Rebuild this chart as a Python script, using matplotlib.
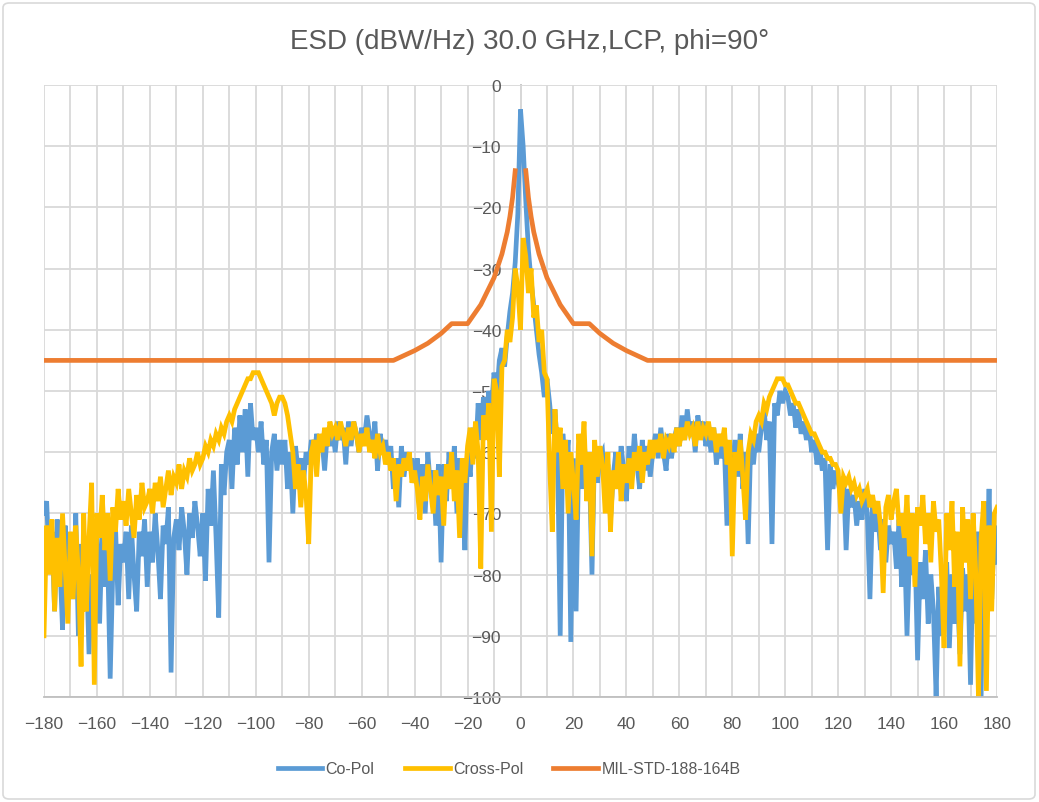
# plot.py
# ESD pattern vs angle, Excel-like chart

import numpy as np
import matplotlib
matplotlib.use("Agg")
import matplotlib.pyplot as plt
from matplotlib.patches import FancyBboxPatch

plt.rcParams['font.family'] = ['Liberation Sans', 'DejaVu Sans']

# angle grid (deg), one sample per degree
angle = np.arange(-180, 181)

co_pol = [
    -70, -68, -79, -73, -86, -71, -78, -89, -72, -81,   # -180
    -76, -84, -70, -90, -75, -83, -78, -93, -80, -86,   # -170
    -74, -88, -73, -82, -76, -97, -79, -72, -85, -75,   # -160
    -78, -73, -84, -72, -80, -86, -73, -77, -71, -82,   # -150
    -73, -78, -70, -76, -84, -72, -75, -69, -96, -74,   # -140
    -71, -76, -69, -73, -80, -70, -74, -68, -72, -77,   # -130
    -70, -81, -66, -72, -63, -74, -87, -62, -67, -60,   # -120
    -58, -66, -56, -62, -54, -60, -53, -64, -52, -58,   # -110
    -56, -60, -55, -62, -58, -78, -60, -57, -63, -58,   # -100
    -62, -58, -66, -60, -70, -59, -63, -61, -65, -60,   # -90
    -62, -58, -61, -57, -60, -58, -63, -57, -59, -56,   # -80
    -60, -55, -58, -56, -62, -55, -59, -55, -57, -60,   # -70
    -56, -58, -54, -57, -60, -55, -63, -57, -60, -58,   # -60
    -62, -59, -66, -61, -69, -59, -64, -60, -63, -61,   # -50
    -65, -61, -68, -62, -70, -60, -66, -63, -72, -62,   # -40
    -78, -62, -68, -60, -66, -59, -70, -61, -64, -76,   # -30
    -60, -64, -56, -61, -52, -58, -51, -56, -50, -53,   # -20
    -47, -51, -45, -43, -46, -41, -37, -34, -29, -21,   # -10
    -4,                                                 # 0
    -10, -19, -27, -32, -36, -40, -44, -47, -51, -48,   # 1
    -52, -57, -53, -60, -90, -57, -63, -58, -91, -61,   # 11
    -86, -60, -66, -58, -64, -62, -80, -59, -65, -61,   # 21
    -60, -67, -62, -71, -64, -60, -66, -59, -63, -68,   # 31
    -59, -64, -57, -62, -66, -58, -63, -59, -64, -60,   # 41
    -57, -61, -56, -60, -63, -57, -61, -58, -56, -59,   # 51
    -54, -58, -53, -57, -55, -60, -54, -57, -55, -59,   # 61
    -57, -60, -56, -62, -58, -61, -59, -72, -60, -63,   # 71
    -58, -64, -57, -66, -60, -75, -58, -62, -57, -60,   # 81
    -56, -53, -58, -55, -75, -52, -54, -50, -52, -50,   # 91
    -51, -54, -52, -56, -53, -57, -55, -58, -56, -60,   # 101
    -58, -62, -59, -63, -61, -76, -62, -66, -63, -65,   # 111
    -67, -64, -76, -66, -69, -67, -72, -68, -71, -66,   # 121
    -70, -84, -68, -73, -70, -76, -71, -78, -72, -75,   # 131
    -73, -79, -71, -82, -74, -90, -76, -80, -75, -94,   # 141
    -78, -84, -76, -88, -80, -86, -100, -82, -90, -86,  # 151
    -78, -92, -80, -88, -82, -93, -79, -86, -80, -98,   # 161
    -76, -88, -73, -100, -68, -80, -66, -84, -72, -78,  # 171
]

cross_pol = [
    -90, -72, -80, -71, -86, -74, -82, -70, -79, -88,   # -180
    -73, -84, -72, -80, -95, -70, -86, -74, -65, -98,   # -170
    -70, -74, -67, -76, -70, -81, -69, -73, -66, -71,   # -160
    -68, -72, -66, -70, -74, -67, -71, -65, -69, -68,   # -150
    -66, -70, -65, -68, -64, -69, -66, -63, -67, -64,   # -140
    -65, -62, -66, -63, -64, -61, -63, -62, -60, -62,   # -130
    -61, -59, -60, -58, -59, -57, -58, -56, -57, -55,   # -120
    -54, -55, -53, -52, -51, -50, -49, -48, -48, -47,   # -110
    -47, -47, -48, -49, -50, -51, -52, -54, -52, -51,   # -100
    -51, -52, -54, -57, -60, -66, -62, -69, -63, -67,   # -90
    -75, -60, -58, -64, -57, -60, -56, -59, -55, -57,   # -80
    -56, -58, -55, -57, -59, -56, -58, -55, -57, -60,   # -70
    -57, -59, -56, -60, -58, -61, -57, -60, -59, -62,   # -60
    -60, -63, -61, -68, -62, -64, -61, -63, -60, -65,   # -50
    -63, -66, -71, -64, -68, -62, -66, -70, -63, -67,   # -40
    -64, -72, -62, -66, -60, -68, -63, -74, -61, -65,   # -30
    -59, -56, -62, -55, -60, -79, -54, -58, -52, -73,   # -20
    -48, -50, -64, -46, -45, -40, -42, -38, -30, -33,   # -10
    -40,                                                # 0
    -25, -28, -34, -30, -38, -36, -42, -40, -47, -48,   # 1
    -62, -73, -53, -60, -56, -66, -58, -70, -60, -65,   # 11
    -71, -57, -62, -55, -68, -60, -77, -58, -64, -59,   # 21
    -62, -70, -60, -73, -63, -66, -60, -68, -62, -65,   # 31
    -61, -66, -60, -63, -59, -65, -60, -62, -58, -61,   # 41
    -58, -60, -57, -61, -58, -59, -57, -60, -56, -59,   # 51
    -56, -58, -55, -57, -56, -59, -55, -58, -56, -57,   # 61
    -55, -58, -56, -60, -57, -59, -56, -62, -58, -77,   # 71
    -60, -63, -58, -64, -71, -60, -57, -58, -55, -54,   # 81
    -55, -52, -53, -51, -50, -49, -48, -48, -48, -49,   # 91
    -49, -50, -51, -52, -52, -53, -54, -55, -56, -57,   # 101
    -57, -58, -59, -60, -60, -61, -61, -62, -62, -63,   # 111
    -70, -64, -65, -64, -66, -65, -67, -66, -68, -67,   # 121
    -66, -69, -67, -70, -68, -72, -83, -69, -67, -71,   # 131
    -68, -66, -72, -70, -74, -67, -77, -70, -82, -69,   # 141
    -72, -67, -75, -70, -78, -68, -73, -71, -80, -92,   # 151
    -70, -76, -68, -82, -73, -95, -69, -78, -71, -84,   # 161
    -70, -80, -100, -74, -68, -99, -72, -86, -70, -69,  # 171
]

# MIL-STD-188-164B mask, read at break points (gap around boresight)
mask_angle = [-180, -48, -45, -40, -35, -30, -26, -20, -15, -10, -7, -5, -4, -3, -2,
              0,
              2, 3, 4, 5, 7, 10, 15, 20, 26, 30, 35, 40, 45, 48, 180]
mask_esd = [-45, -45, -44.4, -43.4, -42.2, -40.6, -39, -39, -35.9, -31.5, -27.6, -24, -21.5, -18.4, -14,
            np.nan,
            -14, -18.4, -21.5, -24, -27.6, -31.5, -35.9, -39, -39, -40.6, -42.2, -43.4, -44.4, -45, -45]

x_ticks = np.arange(-180, 181, 20)
y_ticks = np.arange(-100, 1, 10)

blue = '#5B9BD5'
yellow = '#FFC000'
orange = '#ED7D31'
grid_c = '#D9D9D9'
text_c = '#595959'

fig = plt.figure(figsize=(10.39, 8.03), dpi=100)
ax = fig.add_axes([44/1039, 1 - 698/803, (997-44)/1039, (698-86)/803])

lw = 3.4
ax.plot(angle, co_pol, color=blue, lw=lw, label='Co-Pol', solid_joinstyle='miter')
ax.plot(angle, cross_pol, color=yellow, lw=lw, label='Cross-Pol', solid_joinstyle='miter')
ax.plot(mask_angle, mask_esd, color=orange, lw=lw, label='MIL-STD-188-164B')

ax.set_xlim(-180, 180)
ax.set_ylim(-100, 0)
ax.set_xticks(x_ticks)
ax.set_xticks(np.arange(-180, 181, 10), minor=True)
ax.set_yticks(y_ticks)
ax.grid(True, which='both', color=grid_c, lw=1.3)
ax.set_axisbelow(True)

for s in ['top', 'right']:
    ax.spines[s].set_visible(False)
ax.spines['left'].set_position(('data', 0))
ax.spines['left'].set_color('#BFBFBF')
ax.spines['left'].set_linewidth(1.3)
ax.spines['bottom'].set_color('#BFBFBF')
ax.spines['bottom'].set_linewidth(1.3)
ax.spines['left'].set_zorder(0.5)

ax.tick_params(axis='both', which='both', length=0, labelsize=12.5, labelcolor=text_c)
ax.tick_params(axis='x', pad=14)
ax.tick_params(axis='y', pad=14)

fig.text(530/1039, 1 - 42/803, 'ESD (dBW/Hz) 30.0 GHz,LCP, phi=90°', ha='center', va='center',
         fontsize=20, color=text_c)

leg = fig.legend(loc='center', bbox_to_anchor=(0.49, 1 - 770/803), ncol=3, frameon=False,
                 fontsize=11.5, handlelength=2.8, columnspacing=1.9, handletextpad=0.2)
for t in leg.get_texts():
    t.set_color(text_c)

# chart area border
fig.patches.append(FancyBboxPatch((3/1039, 3/803), 1032/1039, 796/803,
                                  boxstyle='round,pad=0,rounding_size=0.006',
                                  transform=fig.transFigure, fill=False,
                                  edgecolor='#D9D9D9', lw=1.2))

fig.savefig('out.png', dpi=100)
